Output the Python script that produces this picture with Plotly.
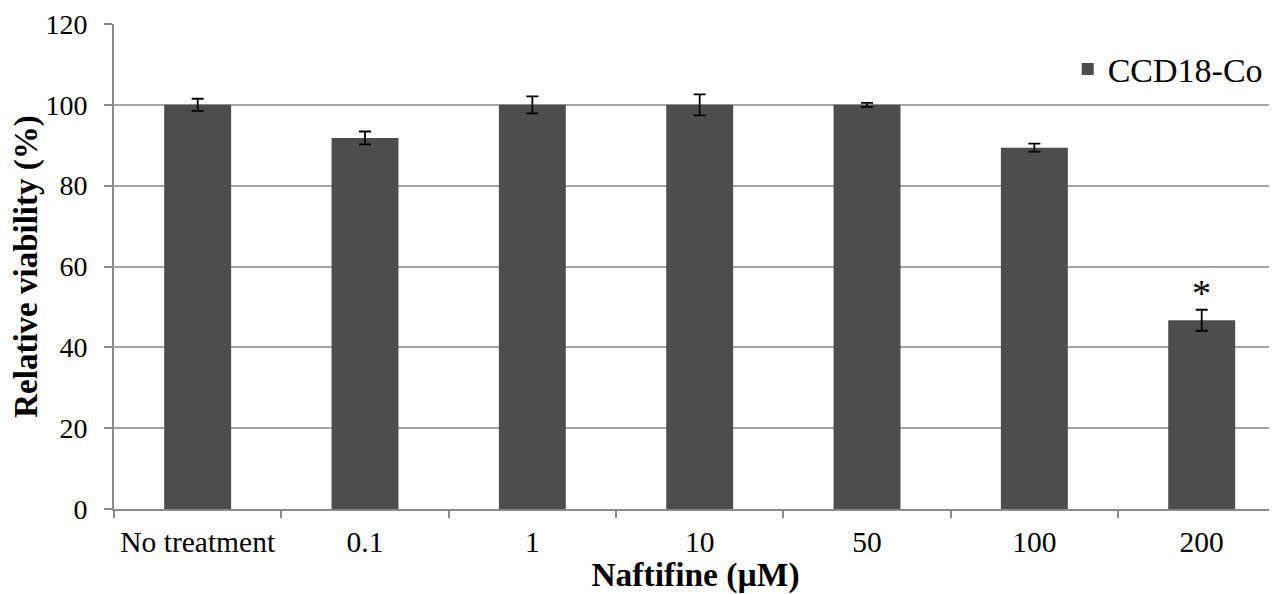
import plotly.graph_objects as go

categories = ["No treatment", "0.1", "1", "10", "50", "100", "200"]
viability = [100.0, 91.8, 100.0, 100.0, 100.0, 89.4, 46.7]
errors = [1.5, 1.6, 2.1, 2.6, 0.5, 1.0, 2.6]
significance = ["", "", "", "", "", "", "*"]
series_name = "CCD18-Co"

FONT = "Liberation Serif, Times New Roman, serif"

fig = go.Figure()
fig.add_trace(go.Bar(
    x=categories, y=viability, name=series_name,
    marker=dict(color="#4d4d4d", line=dict(width=0)),
    error_y=dict(type="data", array=errors, visible=True, color="black", thickness=1.8, width=6),
    width=0.4,
))

for i, (v, e, s) in enumerate(zip(viability, errors, significance)):
    if s:
        fig.add_annotation(x=i, y=v + e, xref="x", yref="y", text=s, showarrow=False,
                           yanchor="bottom", yshift=-6,
                           font=dict(family=FONT, size=38, color="black"))

# the page body adds an 8px offset, so the figure is sized 8px smaller
fig.update_layout(
    width=1269, height=586,
    margin=dict(l=106, r=0, t=16, b=85),
    paper_bgcolor="white", plot_bgcolor="white",
    font=dict(family=FONT, color="black"),
    showlegend=True,
    legend=dict(x=0.992, y=0.966, xanchor="right", yanchor="top",
                font=dict(family=FONT, size=34, color="black"),
                bgcolor="rgba(0,0,0,0)"),
    bargap=0.6,
)
fig.update_xaxes(
    type="category", range=[-0.5, 6.45], automargin=False,
    showline=True, linecolor="#8c8c8c", linewidth=2,
    ticks="outside", tickson="boundaries", ticklen=7, tickcolor="#8c8c8c", tickwidth=2,
    ticklabelstandoff=6,
    tickfont=dict(family=FONT, size=29.5, color="black"),
    title=dict(text="<b>Naftifine (µM)</b>", font=dict(family=FONT, size=33.5, color="black"), standoff=8),
    showgrid=False,
)
fig.update_yaxes(
    range=[0, 120], dtick=20, automargin=False,
    showline=True, linecolor="#8c8c8c", linewidth=2,
    ticks="outside", ticklen=8, tickcolor="#8c8c8c", tickwidth=2,
    ticklabelstandoff=11,
    tickfont=dict(family=FONT, size=28, color="black"),
    showgrid=True, gridcolor="#a6a6a6", gridwidth=2,
    zeroline=False,
    title=dict(text="<b>Relative viability (%)</b>", font=dict(family=FONT, size=33, color="black"), standoff=8),
)

fig.write_html("out.html")
